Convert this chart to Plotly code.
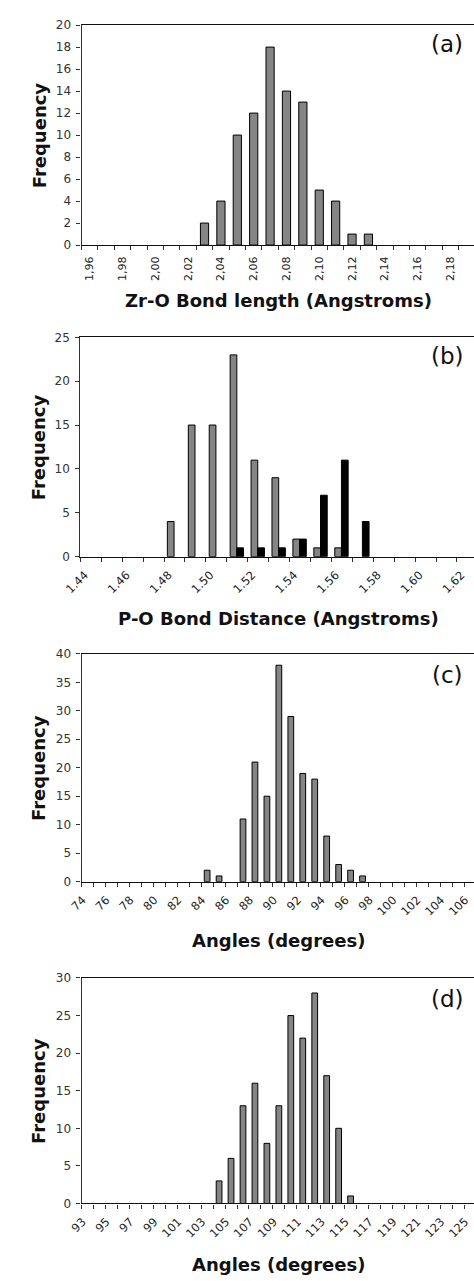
import plotly.graph_objects as go

W, H = 474, 1281

# ---------------- data ----------------
# (a) Zr-O bond length histogram
zr_o_length = [1.96, 1.97, 1.98, 1.99, 2.00, 2.01, 2.02, 2.03, 2.04, 2.05, 2.06, 2.07,
               2.08, 2.09, 2.10, 2.11, 2.12, 2.13, 2.14, 2.15, 2.16, 2.17, 2.18, 2.19]
zr_o_freq = [0, 0, 0, 0, 0, 0, 0, 2, 4, 10, 12, 18, 14, 13, 5, 4, 1, 1, 0, 0, 0, 0, 0, 0]
zr_o_ticks = [1.96, 1.98, 2.00, 2.02, 2.04, 2.06, 2.08, 2.10, 2.12, 2.14, 2.16, 2.18]
zr_o_ticktext = ["1,96", "1,98", "2,00", "2,02", "2,04", "2,06", "2,08", "2,10",
                 "2,12", "2,14", "2,16", "2,18"]

# (b) P-O bond distance histogram (two series)
p_o_dist = [1.44, 1.45, 1.46, 1.47, 1.48, 1.49, 1.50, 1.51, 1.52, 1.53, 1.54, 1.55,
            1.56, 1.57, 1.58, 1.59, 1.60, 1.61, 1.62]
p_o_freq_gray = [0, 0, 0, 0, 4, 15, 15, 23, 11, 9, 2, 1, 1, 0, 0, 0, 0, 0, 0]
p_o_freq_black = [0, 0, 0, 0, 0, 0, 0, 1, 1, 1, 2, 7, 11, 4, 0, 0, 0, 0, 0]
p_o_ticks = [1.44, 1.46, 1.48, 1.50, 1.52, 1.54, 1.56, 1.58, 1.60, 1.62]
p_o_ticktext = ["1.44", "1.46", "1.48", "1.50", "1.52", "1.54", "1.56", "1.58", "1.60", "1.62"]

# (c) O-Zr-O angles histogram
angle_c = list(range(74, 107))
angle_c_freq = [0, 0, 0, 0, 0, 0, 0, 0, 0, 0, 2, 1, 0, 11, 21, 15, 38, 29, 19, 18, 8, 3, 2, 1,
                0, 0, 0, 0, 0, 0, 0, 0, 0]
angle_c_ticks = list(range(74, 107, 2))

# (d) O-P-O angles histogram
angle_d = list(range(93, 126))
angle_d_freq = [0, 0, 0, 0, 0, 0, 0, 0, 0, 0, 0, 3, 6, 13, 16, 8, 13, 25, 22, 28, 17, 10, 1,
                0, 0, 0, 0, 0, 0, 0, 0, 0, 0]
angle_d_ticks = list(range(93, 126, 2))

# ---------------- layout helpers ----------------
FONT = "DejaVu Sans"
GRAY = "#858585"


def px_x(x):
    return x / W


def px_y(y):
    return 1 - y / H


def outline(vals):
    # no outline for empty bins, so nothing is drawn on the baseline
    return [1 if v > 0 else 0 for v in vals]


fig = go.Figure()

panels = [
    dict(n="", left=67, top=18.3, bot=240.7, xr=[1.955, 1.955 + (W - 67) / 17 * 0.01], ymax=20, dy=2,
         tv=zr_o_ticks, tt=zr_o_ticktext, ang=-90, step=0.01, shift=0, lab="(a)", lab_y=37.5,
         title="Zr-O Bond length (Angstroms)", title_y=297),
    dict(n="2", left=65.7, top=334, bot=555.7, xr=[1.435, 1.435 + (W - 65.7) / 21.7 * 0.01], ymax=25, dy=5,
         tv=p_o_ticks, tt=p_o_ticktext, ang=-45, step=0.01, shift=-6, lab="(b)", lab_y=353,
         title="P-O Bond Distance (Angstroms)", title_y=618),
    dict(n="3", left=67, top=654, bot=884.3, xr=[73.5, 73.5 + (W - 67) / 12.4], ymax=40, dy=5,
         tv=angle_c_ticks, tt=[str(v) for v in angle_c_ticks], ang=-45, step=1, shift=-5, lab="(c)",
         lab_y=675, title="Angles (degrees)", title_y=944),
    dict(n="4", left=67, top=981.7, bot=1209.7, xr=[92.5, 92.5 + (W - 67) / 12.4], ymax=30, dy=5,
         tv=angle_d_ticks, tt=[str(v) for v in angle_d_ticks], ang=-45, step=1, shift=-5, lab="(d)",
         lab_y=1003, title="Angles (degrees)", title_y=1271),
]

# traces
fig.add_trace(go.Bar(x=zr_o_length, y=zr_o_freq, width=0.005, xaxis="x", yaxis="y",
                     marker=dict(color=GRAY, line=dict(color="black", width=outline(zr_o_freq)))))
fig.add_trace(go.Bar(x=p_o_dist, y=p_o_freq_gray, width=0.0032, offset=-0.0034, xaxis="x2", yaxis="y2",
                     marker=dict(color=GRAY, line=dict(color="black", width=outline(p_o_freq_gray)))))
fig.add_trace(go.Bar(x=p_o_dist, y=p_o_freq_black, width=0.0032, offset=-0.0002, xaxis="x2", yaxis="y2",
                     marker=dict(color="black", line=dict(color="black", width=outline(p_o_freq_black)))))
fig.add_trace(go.Bar(x=angle_c, y=angle_c_freq, width=0.48, xaxis="x3", yaxis="y3",
                     marker=dict(color=GRAY, line=dict(color="black", width=outline(angle_c_freq)))))
fig.add_trace(go.Bar(x=angle_d, y=angle_d_freq, width=0.48, xaxis="x4", yaxis="y4",
                     marker=dict(color=GRAY, line=dict(color="black", width=outline(angle_d_freq)))))

annotations = []
layout = {}
for p in panels:
    n = p["n"]
    xa = "xaxis" + n
    ya = "yaxis" + n
    layout[xa] = dict(
        domain=[px_x(p["left"]), 1.0], range=p["xr"], anchor="y" + n,
        showgrid=False, zeroline=False, showline=True, linecolor="#111", linewidth=1.2, mirror=True,
        tickmode="array", tickvals=p["tv"], ticktext=p["tt"], tickangle=p["ang"],
        ticks="outside", ticklen=6, tickcolor="rgba(0,0,0,0)", ticklabelshift=p["shift"],
        ticklabeloverflow="allow",
        tickfont=dict(family=FONT, size=11 if p["ang"] == -90 else 11.5, color="#222"),
        minor=dict(tick0=p["xr"][0], dtick=p["step"], ticks="outside", ticklen=4,
                   tickcolor="#333", tickwidth=1, showgrid=False),
        fixedrange=True,
    )
    layout[ya] = dict(
        domain=[px_y(p["bot"]), px_y(p["top"])], range=[0, p["ymax"]], anchor="x" + n,
        dtick=p["dy"], tick0=0, showgrid=False, zeroline=False, showline=True,
        linecolor="#333", linewidth=1.2, ticks="outside", ticklen=4, tickcolor="#333",
        ticklabelstandoff=3,
        tickfont=dict(family=FONT, size=12, color="#333"), fixedrange=True,
    )
    annotations.append(dict(text=p["lab"], x=px_x(446), y=px_y(p["lab_y"]), xref="paper", yref="paper",
                            showarrow=False, xanchor="center", yanchor="middle",
                            font=dict(family=FONT, size=23, color="#111")))
    annotations.append(dict(text="<b>" + p["title"] + "</b>", x=px_x(271), y=px_y(p["title_y"]),
                            xref="paper", yref="paper", showarrow=False, xanchor="center",
                            yanchor="middle", font=dict(family=FONT, size=18, color="#111")))
    annotations.append(dict(text="<b>Frequency</b>", x=px_x(23), y=px_y((p["top"] + p["bot"]) / 2),
                            xref="paper", yref="paper", showarrow=False, xanchor="center",
                            yanchor="middle", textangle=-90, font=dict(family=FONT, size=18, color="#111")))

fig.update_layout(
    width=W, height=H, margin=dict(l=0, r=0, t=0, b=0),
    paper_bgcolor="white", plot_bgcolor="white", showlegend=False,
    barmode="overlay", annotations=annotations, **layout,
)

fig.write_html(
    "out.html",
    config={"displayModeBar": False},
    post_script="document.body.style.margin='0';document.body.style.padding='0';"
                "document.documentElement.style.overflow='hidden';document.body.style.overflow='hidden';",
)
